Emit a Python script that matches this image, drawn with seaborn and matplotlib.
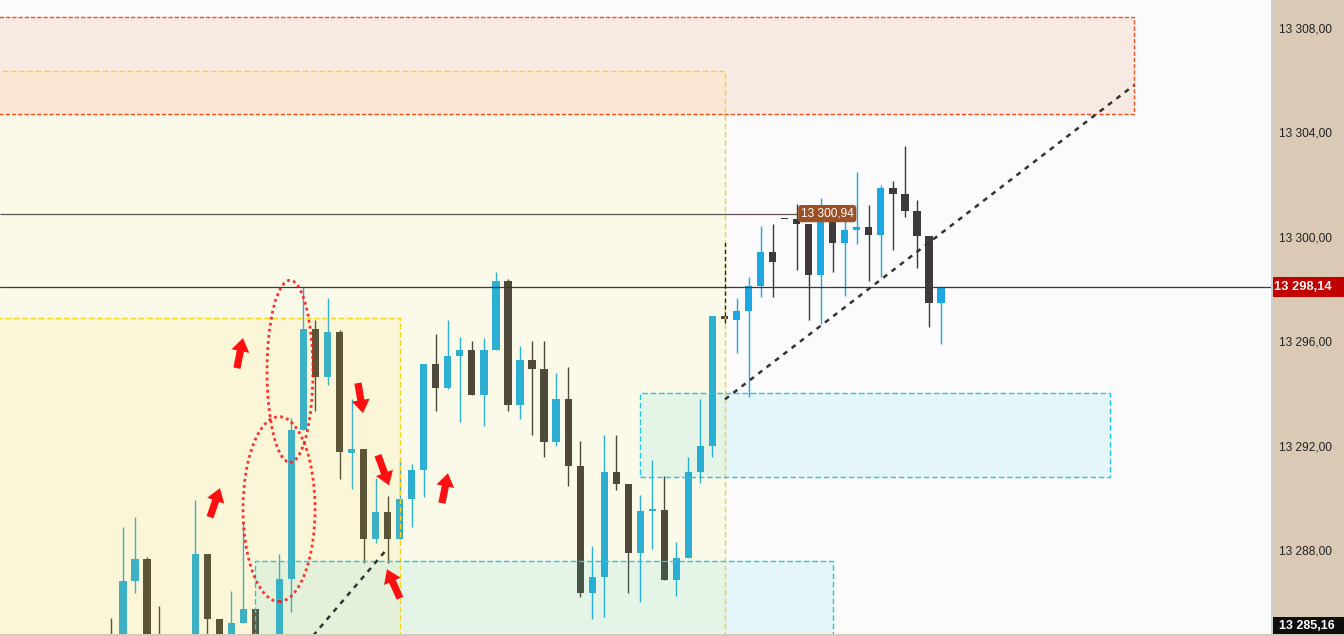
import numpy as np
import pandas as pd
import matplotlib
matplotlib.use("Agg")
import matplotlib.pyplot as plt
import seaborn as sns
from matplotlib.patches import Rectangle, Ellipse, FancyArrowPatch, ArrowStyle

nan = np.nan
# ---------------- data (candle index, OHLC) ----------------
opens = [13284.6, 13284.2, 13286.88, 13287.72, 13284.6, nan, nan, 13284.3, 13287.92, 13285.43,
         13284.6, 13285.28, 13285.81, nan, 13284.5, 13286.96, 13292.66, 13296.52, 13294.68, 13296.41,
         13291.78, 13291.93, 13288.49, 13289.52, 13288.49, 13290.02, 13291.13, 13295.18, 13294.26, 13295.49,
         13295.72, 13294.00, 13295.72, 13298.36, 13293.61, 13295.33, 13294.99, 13292.20, 13293.84, 13291.28,
         13286.42, 13287.04, 13291.05, 13290.59, 13287.95, 13289.58, 13289.60, 13286.92, 13287.76, 13291.05,
         13292.05, 13297.02, 13296.86, 13297.21, 13298.16, 13299.46, 13300.73, 13300.73, 13300.54, 13298.59,
         13300.69, 13299.81, 13300.31, 13300.42, 13300.11, 13301.91, 13301.68, 13301.03, 13300.08, 13297.51]
highs = [13285.47, 13288.95, 13289.33, 13287.80, 13285.93, nan, nan, 13289.98, 13287.92, 13285.43,
         13286.50, 13289.14, 13285.81, nan, 13287.92, 13293.12, 13298.13, 13296.86, 13297.71, 13296.48,
         13293.84, 13291.93, 13290.82, 13290.13, 13291.51, 13291.36, 13295.18, 13296.33, 13296.86, 13296.21,
         13296.06, 13296.18, 13298.70, 13298.43, 13295.87, 13296.06, 13296.06, 13294.84, 13295.07, 13292.24,
         13288.22, 13292.47, 13292.47, 13290.59, 13290.17, 13291.51, 13290.90, 13288.37, 13291.63, 13293.84,
         13297.02, 13297.02, 13297.71, 13298.51, 13300.46, 13300.54, 13300.73, 13301.30, 13300.54, 13301.53,
         13301.26, 13300.90, 13302.52, 13301.26, 13302.03, 13302.18, 13303.52, 13301.45, 13300.08, 13298.16]
lows = [13284.0, 13284.0, 13286.42, 13284.0, 13284.0, nan, nan, 13284.0, 13284.6, 13284.2,
        13284.3, 13285.28, 13284.3, nan, 13284.3, 13285.70, 13292.66, 13293.38, 13294.38, 13290.78,
        13290.40, 13287.57, 13288.34, 13287.57, 13288.49, 13288.95, 13290.10, 13293.38, 13294.22, 13292.96,
        13294.00, 13292.81, 13295.72, 13293.38, 13293.08, 13292.47, 13291.63, 13292.05, 13290.52, 13286.27,
        13285.43, 13285.51, 13290.36, 13286.42, 13286.08, 13288.11, 13286.92, 13286.31, 13287.76, 13290.63,
        13291.63, 13296.90, 13295.60, 13293.92, 13297.74, 13297.74, 13300.73, 13298.78, 13296.86, 13296.71,
        13298.70, 13297.78, 13299.77, 13298.36, 13298.51, 13299.54, 13300.80, 13298.85, 13296.60, 13295.95]
closes = [13284.2, 13286.88, 13287.72, 13284.5, 13284.3, nan, nan, 13287.92, 13285.43, 13284.6,
          13285.28, 13285.81, 13284.6, nan, 13286.96, 13292.66, 13296.52, 13294.68, 13296.41, 13291.82,
          13291.93, 13288.49, 13289.52, 13288.49, 13290.02, 13291.13, 13295.18, 13294.26, 13295.49, 13295.72,
          13294.00, 13295.72, 13298.36, 13293.61, 13295.33, 13294.99, 13292.20, 13293.84, 13291.28, 13286.42,
          13287.04, 13291.05, 13290.59, 13287.95, 13289.56, 13289.62, 13286.92, 13287.76, 13291.05, 13292.05,
          13297.02, 13296.90, 13297.21, 13298.16, 13299.46, 13299.08, 13300.73, 13300.54, 13298.59, 13300.69,
          13299.81, 13300.31, 13300.42, 13300.11, 13301.91, 13301.68, 13301.03, 13300.08, 13297.51, 13298.14]

tick_values = [13308, 13304, 13300, 13296, 13292, 13288]
tick_labels = ["13 308,00", "13 304,00", "13 300,00", "13 296,00", "13 292,00", "13 288,00"]
last_price = 13298.14
last_label = "13 298,14"
level_price = 13300.94
level_label = "13 300,94"
bottom_label = "13 285,16"

# trend lines (candle index, price)
trend1_x = [16.8, 22.94]
trend1_y = [13284.80, 13288.11]
trend2_x = [51.04, 85.04]
trend2_y = [13293.84, 13305.85]

# zones: (x0, x1, y0, y1)
zone_pink = (-10, 85.04, 13304.74, 13308.45)
zone_yellow_big = (-10, 51.04, 13280, 13306.39)
zone_yellow_left = (-10, 24.02, 13280, 13296.94)
zone_cyan_right = (43.97, 83.04, 13290.86, 13294.07)
zone_cyan_low = (11.97, 60.02, 13280, 13287.65)

# arrows: (tail_x, tail_y, tip_x, tip_y)
arrows_tail_x = [10.47, 8.23, 20.53, 22.19, 27.51, 24.02]
arrows_tail_y = [13295.03, 13289.33, 13294.46, 13291.70, 13289.87, 13286.23]
arrows_tip_x = [10.97, 9.06, 20.95, 23.11, 28.01, 22.94]
arrows_tip_y = [13296.18, 13290.44, 13293.31, 13290.55, 13291.01, 13287.34]

# ellipses: (cx, cy, w, h)
ellipses = [(14.88, 13294.91, 3.82, 6.96), (13.97, 13289.64, 5.99, 7.07)]

# ---------------- figure ----------------
sns.set_style("white")
plt.rcParams['font.family'] = ['Liberation Sans', 'DejaVu Sans']

W, H = 1344, 636
fig = plt.figure(figsize=(W / 100, H / 100), dpi=100)
fig.patch.set_facecolor('#dac9b5')
ax = fig.add_axes([0, 2 / H, 1271 / W, 634 / H])
ax2 = fig.add_axes([1271 / W, 2 / H, 73 / W, 634 / H])

YMIN, YMAX = 13284.864, 13309.109
XMIN, XMAX = -9.227, 96.43
ax.set_xlim(XMIN, XMAX)
ax.set_ylim(YMIN, YMAX)
ax.set_facecolor('#fbfbfb')
for s in ax.spines.values():
    s.set_visible(False)
ax.set_xticks([])
ax.set_yticks([])

BLUE = '#19a8e3'
DARK = '#3d393c'

df = pd.DataFrame({'open': opens, 'high': highs, 'low': lows, 'close': closes})
df['idx'] = np.arange(len(df))
df = df.dropna()
min_h = 0.06
for _, r in df.iterrows():
    col = BLUE if r['close'] > r['open'] else DARK
    ax.vlines(r['idx'], r['low'], r['high'], color=col, lw=1.0, zorder=2)
    bot = min(r['open'], r['close'])
    h = max(abs(r['close'] - r['open']), min_h)
    ax.bar(r['idx'], h, bottom=bot, width=0.6, color=col, linewidth=0, zorder=2)

# zones (overlays drawn above candles)
def zone(z, fc, alpha, ec, ls=(0, (3, 2)), lw=1.0):
    x0, x1, y0, y1 = z
    ax.add_patch(Rectangle((x0, y0), x1 - x0, y1 - y0, facecolor=fc, alpha=alpha,
                           edgecolor='none', zorder=3))
    ax.add_patch(Rectangle((x0, y0), x1 - x0, y1 - y0, facecolor='none',
                           edgecolor=ec, lw=lw, linestyle=ls, zorder=4))

zone(zone_yellow_big, (1.0, 0.93, 0.2), 0.09, '#f7d31c', ls=(0, (4, 2)))
zone(zone_yellow_left, (1.0, 0.85, 0.1), 0.08, '#f7d31c', ls=(0, (4, 2)))
zone(zone_pink, (0.94, 0.35, 0.16), 0.11, '#ff4a1c', ls=(0, (3, 1.5)))
zone(zone_cyan_right, (0.0, 0.78, 0.9), 0.09, '#22c6e6', ls=(0, (4, 2)))
zone(zone_cyan_low, (0.0, 0.78, 0.9), 0.09, '#22c6e6', ls=(0, (4, 2)))

# horizontal levels
ax.hlines(level_price, XMIN, 57.2, color='#5e5452', lw=0.9, zorder=5)
ax.axhline(last_price, color='#3a3a3a', lw=0.9, zorder=5)
ax.text(57.35, level_price, level_label, color='white', fontsize=8.6, ha='left', va='center',
        zorder=8, bbox=dict(boxstyle='round,pad=0.22,rounding_size=0.25', fc='#9b5125', ec='none'))

# vertical black dashed marker
ax.vlines(51.04, 13296.75, 13299.85, color='#222222', lw=1.0, linestyles=(0, (3, 2)), zorder=5)

# trend lines
tl = pd.DataFrame({'x': trend1_x + trend2_x, 'y': trend1_y + trend2_y,
                   'g': ['a', 'a', 'b', 'b']})
sns.lineplot(data=tl, x='x', y='y', units='g', estimator=None, color='#333333', lw=1.8,
             linestyle=(0, (2.0, 2.2)), ax=ax, zorder=6, legend=False)
ax.set_xlabel('')
ax.set_ylabel('')
ax.set_xlim(XMIN, XMAX)
ax.set_ylim(YMIN, YMAX)

# ellipses
for cx, cy, w, h in ellipses:
    ax.add_patch(Ellipse((cx, cy), w, h, fill=False, edgecolor='#ff1a1a', lw=2.0,
                         linestyle=(0, (1.0, 1.2)), zorder=7, alpha=0.9))

# arrows
style = ArrowStyle.Simple(head_length=9.5, head_width=13, tail_width=5.2)
for tx, ty, hx, hy in zip(arrows_tail_x, arrows_tail_y, arrows_tip_x, arrows_tip_y):
    ax.add_patch(FancyArrowPatch((tx, ty), (hx, hy), arrowstyle=style, mutation_scale=1,
                                 color='#ff1010', lw=0, shrinkA=0, shrinkB=0, zorder=7))

# ---------------- price axis panel ----------------
ax2.set_facecolor('#dac9b5')
ax2.set_xlim(0, 73)
ax2.set_ylim(YMIN, YMAX)
ax2.set_xticks([])
ax2.set_yticks([])
for k, s in ax2.spines.items():
    s.set_visible(False)
ax2.axvline(0.5, color='#cfcfcf', lw=1.6)
for v, lab in zip(tick_values, tick_labels):
    ax2.text(8, v, lab, ha='left', va='center', fontsize=8.6, color='#222222')

px = (YMAX - YMIN) / 634.0
ax2.add_patch(Rectangle((1.5, last_price - 10 * px), 72, 20 * px, fc='#c30000', ec='none', zorder=3))
ax2.text(3, last_price, last_label, ha='left', va='center', fontsize=9.3, fontweight='bold',
         color='white', zorder=4)
ax2.add_patch(Rectangle((1.5, YMIN), 72, 17 * px, fc='#0e0e0e', ec='none', zorder=3))
ax2.text(8, YMIN + 8.5 * px, bottom_label, ha='left', va='center', fontsize=9.0, fontweight='bold',
         color='white', zorder=4)

fig.savefig('out.png', dpi=100, facecolor=fig.get_facecolor())
